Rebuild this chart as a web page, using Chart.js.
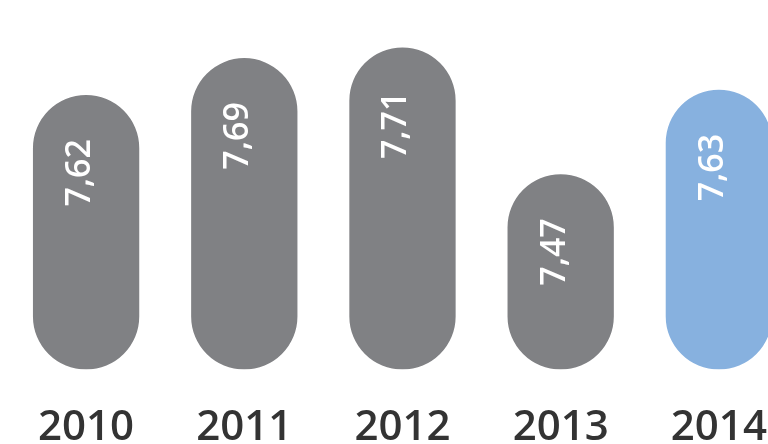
<!DOCTYPE html>
<html>
<head>
<meta charset="utf-8">
<script src="https://cdn.jsdelivr.net/npm/chart.js@4/dist/chart.umd.min.js"></script>
<style>
  html, body { margin: 0; padding: 0; background: #fff; overflow: hidden; }
  canvas { display: block; }
</style>
</head>
<body>
<canvas id="grafico" width="800" height="486"></canvas>
<script>
var anos = ["2010", "2011", "2012", "2013", "2014"];
var notas = [7.62, 7.69, 7.71, 7.47, 7.63];
var cores = ["#808184", "#808184", "#808184", "#808184", "#87b1df"];

// escreve o valor girado dentro de cada barra
var rotulosBarras = {
  id: 'rotulosBarras',
  afterDatasetsDraw: function(chart) {
    var ctx = chart.ctx;
    var meta = chart.getDatasetMeta(0);
    ctx.save();
    ctx.fillStyle = '#ffffff';
    ctx.font = '600 34px "Open Sans"';
    ctx.textAlign = 'right';
    ctx.textBaseline = 'alphabetic';
    meta.data.forEach(function(bar, i) {
      ctx.save();
      ctx.translate(bar.x + 4, bar.y + 44);
      ctx.rotate(-Math.PI / 2);
      ctx.fillText(notas[i].toFixed(2).replace('.', ','), 0, 0);
      ctx.restore();
    });
    ctx.restore();
  }
};

new Chart(document.getElementById("grafico"), {
  type: 'bar',
  data: {
    labels: anos,
    datasets: [{
      data: notas,
      base: 7.1,
      backgroundColor: cores,
      borderWidth: 0,
      borderRadius: 60,
      borderSkipped: false,
      barPercentage: 0.672,
      categoryPercentage: 1
    }]
  },
  options: {
    responsive: false,
    animation: false,
    layout: { padding: { left: 7, right: 1, top: 0, bottom: 0 } },
    plugins: {
      legend: { display: false },
      tooltip: { enabled: false }
    },
    scales: {
      x: {
        grid: { display: false, drawTicks: false },
        border: { display: false },
        ticks: {
          color: '#333333',
          padding: 33,
          font: { family: '"Open Sans"', size: 42, weight: '600', lineHeight: 1.2 }
        }
      },
      y: {
        display: false,
        min: 7.1,
        max: 7.8
      }
    }
  },
  plugins: [rotulosBarras]
});
</script>
</body>
</html>
